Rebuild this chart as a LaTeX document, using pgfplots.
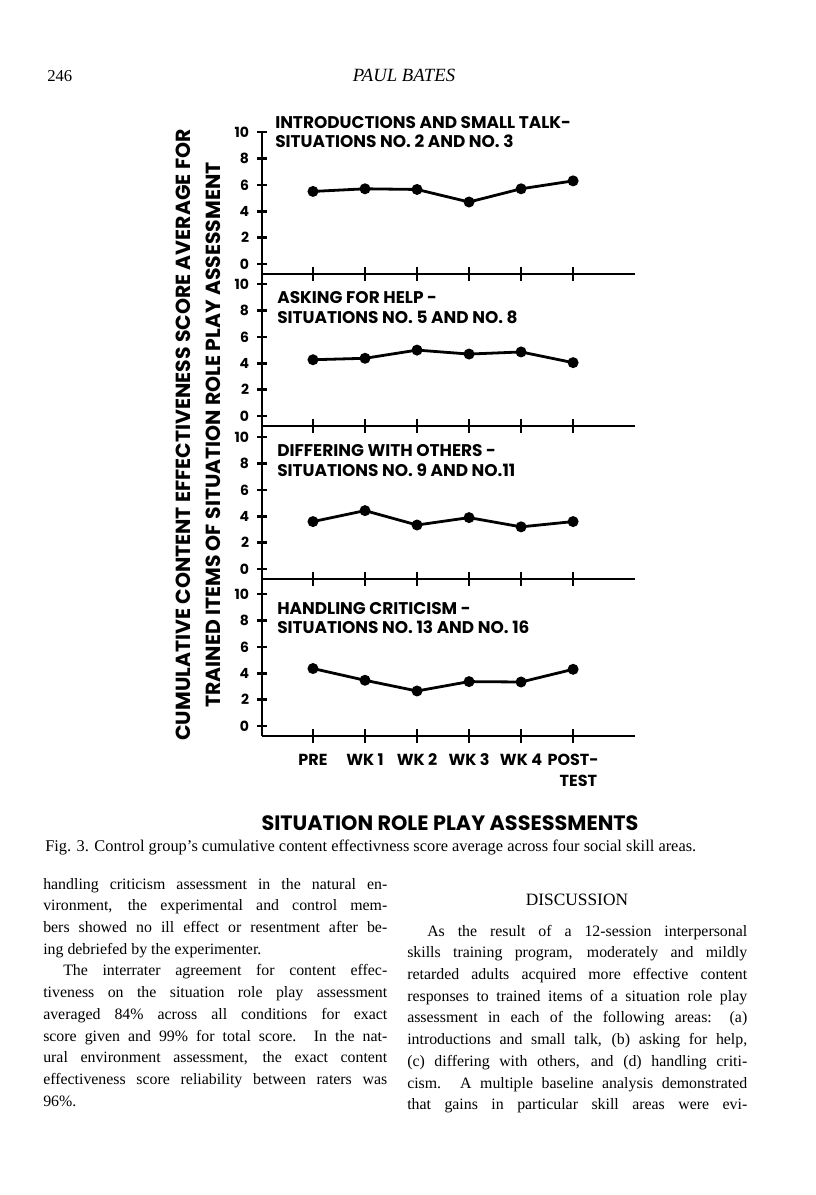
\documentclass[border=0pt]{standalone}
\usepackage{pgfplots}
\pgfplotsset{compat=1.18}
\usepackage{fontspec}
\setmainfont{Liberation Serif}
\newfontfamily\fut{Poppins}
\newlength\cw
\newcommand\JL[1]{\makebox[\cw][s]{#1}\par}
\newcommand\LL[1]{\makebox[\cw][l]{#1}\par}
\tikzset{ttl/.style={anchor=base west, inner sep=0pt, font=\fut\bfseries\fontsize{12.7}{14}\selectfont}}
\begin{document}
\begin{tikzpicture}[x=0.75pt,y=0.75pt]
\path[use as bounding box, fill=white] (0,0) rectangle (816,-1195);
\pgfplotsset{
 panel/.style={
   scale only axis, width=279.75pt, height=106.5pt,
   anchor=south west,
   xmin=-0.98, xmax=6.19, ymin=-0.75, ymax=10,
   axis lines=left, axis line style={-, line width=2pt, black},
   xtick={0,...,5}, ytick={0,2,...,10},
   tick align=center, major tick length=7pt,
   tick style={line width=2pt, black},
   xtick style={/pgfplots/major tick length=10.5pt},
   xticklabels={,,,,,},
   yticklabel style={font=\fut\bfseries\fontsize{10.5}{12}\selectfont, inner sep=1pt, xshift=-5pt},
   /pgf/number format/assume math mode=true,
   clip=false,
 },
 dat/.style={black, line width=2.1pt, mark=*, mark size=3pt, mark options={solid}},
}
% Panel 1
\begin{axis}[panel, at={(196.5pt,-205.5pt)}]
\addplot[dat] coordinates {(0,5.5) (1,5.7) (2,5.65) (3,4.7) (4,5.7) (5,6.3)};
\end{axis}
% Panel 2
\begin{axis}[panel, at={(196.5pt,-319.5pt)}, height=114pt, ymax=10.765]
\addplot[dat] coordinates {(0,4.27) (1,4.38) (2,5.0) (3,4.7) (4,4.86) (5,4.05)};
\end{axis}
% Panel 3
\begin{axis}[panel, at={(196.5pt,-434.25pt)}, height=114.75pt, ymax=10.84]
\addplot[dat] coordinates {(0,3.6) (1,4.43) (2,3.34) (3,3.9) (4,3.2) (5,3.6)};
\end{axis}
% Panel 4
\begin{axis}[panel, at={(196.5pt,-552pt)}, height=117.75pt, ymax=11.14,
   xticklabels={PRE,WK 1,WK 2,WK 3,WK 4,POST-},
   xticklabel style={anchor=base, yshift=-18.75pt, font=\fut\bfseries\fontsize{12}{15}\selectfont}]
\addplot[dat] coordinates {(0,4.36) (1,3.47) (2,2.66) (3,3.37) (4,3.34) (5,4.3)};
\node[anchor=base, inner sep=0pt, xshift=4pt, yshift=-37.5pt, font=\fut\bfseries\fontsize{12}{15}\selectfont] at (axis cs:5,-0.75) {TEST};
\end{axis}
% panel titles
\node[ttl] at (275,-129) {INTRODUCTIONS AND SMALL TALK-};
\node[ttl] at (275,-148) {SITUATIONS NO. 2 AND NO. 3};
\node[ttl] at (277,-303) {ASKING FOR HELP -};
\node[ttl] at (277,-323) {SITUATIONS NO. 5 AND NO. 8};
\node[ttl] at (277,-456) {DIFFERING WITH OTHERS -};
\node[ttl] at (277,-476) {SITUATIONS NO. 9 AND NO.11};
\node[ttl] at (277,-614) {HANDLING CRITICISM -};
\node[ttl] at (277,-633) {SITUATIONS NO. 13 AND NO. 16};
% y label
\node[rotate=90, align=center, inner sep=0pt, font=\fut\bfseries\fontsize{15.3}{22.5}\selectfont] at (198,-435)
  {CUMULATIVE CONTENT EFFECTIVENESS SCORE AVERAGE FOR\\TRAINED ITEMS OF SITUATION ROLE PLAY ASSESSMENT};
% chart title
\node[anchor=base, inner sep=0pt, font=\fut\bfseries\fontsize{15.6}{18}\selectfont] at (450,-830) {SITUATION ROLE PLAY ASSESSMENTS};
% caption
\node[anchor=base west, inner sep=0pt, font=\fontsize{12.3}{14}\selectfont] at (45,-851)
  {Fig. 3. Control group's cumulative content effectivness score average across four social skill areas.};
% header
\node[anchor=base west, inner sep=0pt, font=\fontsize{12.5}{14}\selectfont] at (47,-82) {246};
\node[anchor=base, inner sep=0pt, font=\itshape\fontsize{14}{16}\selectfont] at (404,-82) {PAUL BATES};
% body text left column
\node[anchor=base west, inner sep=0pt] at (43,-889) {\setlength\cw{258pt}\parbox[t]{\cw}{\fontsize{11.9}{16.3}\selectfont\setlength\parindent{0pt}%
\JL{handling criticism assessment in the natural en-}
\JL{vironment, the experimental and control mem-}
\JL{bers showed no ill effect or resentment after be-}
\LL{ing debriefed by the experimenter.}
\JL{\hspace{15pt}The interrater agreement for content effec-}
\JL{tiveness on the situation role play assessment}
\JL{averaged 84\% across all conditions for exact}
\JL{score given and 99\% for total score. In the nat-}
\JL{ural environment assessment, the exact content}
\JL{effectiveness score reliability between raters was}
\LL{96\%.}}};
% body text right column
\node[anchor=base, inner sep=0pt, font=\fontsize{13}{15}\selectfont] at (577,-905) {DISCUSSION};
\node[anchor=base west, inner sep=0pt] at (407,-936) {\setlength\cw{255pt}\parbox[t]{\cw}{\fontsize{11.9}{16.3}\selectfont\setlength\parindent{0pt}%
\JL{\hspace{15pt}As the result of a 12-session interpersonal}
\JL{skills training program, moderately and mildly}
\JL{retarded adults acquired more effective content}
\JL{responses to trained items of a situation role play}
\JL{assessment in each of the following areas: (a)}
\JL{introductions and small talk, (b) asking for help,}
\JL{(c) differing with others, and (d) handling criti-}
\JL{cism. A multiple baseline analysis demonstrated}
\JL{that gains in particular skill areas were evi-}}};
\end{tikzpicture}
\end{document}
